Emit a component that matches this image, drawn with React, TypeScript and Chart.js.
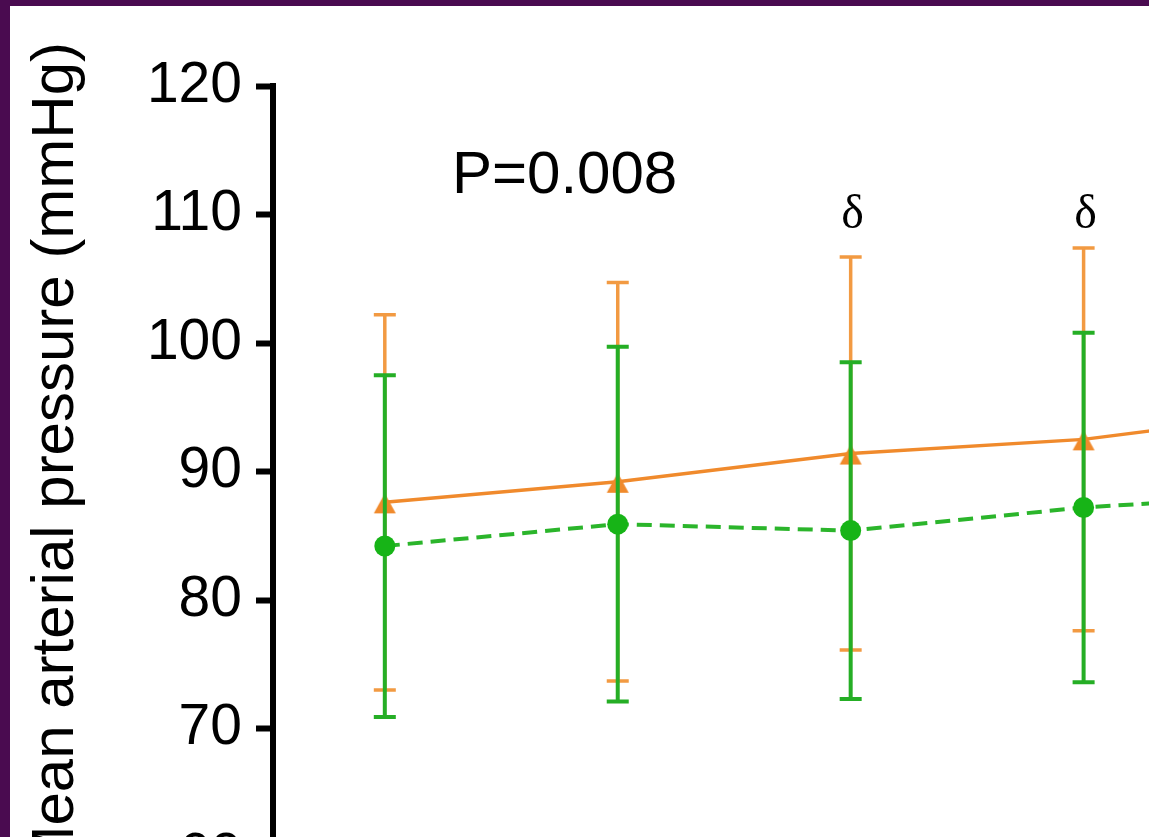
import React, { useEffect, useRef } from 'react';
import { Chart, registerables } from 'chart.js';

Chart.register(...registerables);

// ---- data ----
const timePoints = [1, 2, 3, 4, 5];
const orangeMean = [87.6, 89.2, 91.4, 92.5, 94.8];
const orangeSD = [14.6, 15.5, 15.3, 14.9, 15.0];
const greenMean = [84.2, 85.9, 85.4, 87.2, 88.3];
const greenSD = [13.3, 13.8, 13.1, 13.6, 13.5];
const yTicks = [60, 70, 80, 90, 100, 110, 120];
const deltaMarks = [3, 4];
const yTitle = 'Mean arterial pressure (mmHg)';
const pText = 'P=0.008';

const SANS = '"Liberation Sans", Arial, Helvetica, sans-serif';
const SERIF = '"Liberation Serif", "DejaVu Serif", "Times New Roman", serif';

const ORANGE_LINE = '#F08A2C';
const ORANGE_ERR = '#F29A42';
const GREEN_LINE = '#2BB52B';
const GREEN_ERR = '#25AE25';
const GREEN_PT = '#17B417';

function makeTriangle(color: string) {
  const c = document.createElement('canvas');
  c.width = 26;
  c.height = 34;
  const g = c.getContext('2d')!;
  g.fillStyle = color;
  g.beginPath();
  g.moveTo(13, 8);
  g.lineTo(24, 28);
  g.lineTo(2, 28);
  g.closePath();
  g.fill();
  return c;
}

const errSpecs = [
  { sd: greenSD, color: GREEN_ERR, width: 4 },
  { sd: orangeSD, color: ORANGE_ERR, width: 3.5 },
];

const errorBarPlugin = {
  id: 'errorBars',
  beforeDatasetDraw(chart: any, args: any) {
    const spec = errSpecs[args.index];
    if (!spec) return;
    const ctx = chart.ctx;
    const xs = chart.scales.x;
    const ys = chart.scales.y;
    const ds = chart.data.datasets[args.index];
    ctx.save();
    ctx.strokeStyle = spec.color;
    ctx.lineWidth = spec.width;
    ctx.lineCap = 'butt';
    ds.data.forEach((pt: any, i: number) => {
      const x = xs.getPixelForValue(pt.x);
      const yTop = ys.getPixelForValue(pt.y + spec.sd[i]);
      const yBot = ys.getPixelForValue(pt.y - spec.sd[i]);
      ctx.beginPath();
      ctx.moveTo(x, yTop);
      ctx.lineTo(x, yBot);
      ctx.moveTo(x - 11, yTop);
      ctx.lineTo(x + 11, yTop);
      ctx.moveTo(x - 11, yBot);
      ctx.lineTo(x + 11, yBot);
      ctx.stroke();
    });
    ctx.restore();
  },
};

const textPlugin = {
  id: 'texts',
  afterDraw(chart: any) {
    const ctx = chart.ctx;
    const xs = chart.scales.x;
    const area = chart.chartArea;
    ctx.save();
    ctx.fillStyle = '#000';
    // y-axis title
    ctx.save();
    ctx.translate(63, 36);
    ctx.rotate(-Math.PI / 2);
    ctx.font = `60px ${SANS}`;
    ctx.textAlign = 'right';
    ctx.textBaseline = 'alphabetic';
    ctx.fillText(yTitle, 0, 0);
    ctx.restore();
    // P value
    ctx.font = `60px ${SANS}`;
    ctx.textAlign = 'left';
    ctx.textBaseline = 'alphabetic';
    ctx.fillText(pText, area.left + 179, area.top + 107);
    // delta marks
    ctx.font = `48px ${SERIF}`;
    ctx.textAlign = 'center';
    deltaMarks.forEach((t) => {
      ctx.fillText('δ', xs.getPixelForValue(t) + 2, area.top + 142);
    });
    ctx.restore();
  },
};

export default function App() {
  const ref = useRef<HTMLCanvasElement>(null);

  useEffect(() => {
    document.body.style.margin = '0';
    const canvas = ref.current!;
    const tri = makeTriangle(ORANGE_LINE);
    const chart = new Chart(canvas, {
      type: 'line',
      data: {
        datasets: [
          {
            label: 'Green',
            data: timePoints.map((t, i) => ({ x: t, y: greenMean[i] })),
            borderColor: GREEN_LINE,
            borderWidth: 4,
            borderDash: [15, 8],
            pointStyle: 'circle',
            pointRadius: 10.5,
            pointBackgroundColor: GREEN_PT,
            pointBorderWidth: 0,
            tension: 0,
            fill: false,
          },
          {
            label: 'Orange',
            data: timePoints.map((t, i) => ({ x: t, y: orangeMean[i] })),
            borderColor: ORANGE_LINE,
            borderWidth: 3.5,
            pointStyle: tri as any,
            pointRadius: 10,
            pointBackgroundColor: ORANGE_LINE,
            pointBorderWidth: 0,
            tension: 0,
            fill: false,
          },
        ],
      },
      options: {
        responsive: false,
        maintainAspectRatio: false,
        animation: false,
        layout: { padding: { top: 80, left: 0, right: 17, bottom: 49 } },
        plugins: {
          legend: { display: false },
          tooltip: { enabled: false },
        },
        scales: {
          x: {
            type: 'linear',
            min: 0.52,
            max: 5.5,
            display: false,
          },
          y: {
            type: 'linear',
            min: 60,
            max: 120,
            afterBuildTicks: (s: any) => {
              s.ticks = yTicks.map((v) => ({ value: v }));
            },
            afterFit: (s: any) => {
              s.width = 263;
            },
            ticks: {
              color: '#000',
              font: { family: SANS, size: 57 },
              padding: 14,
            },
            grid: {
              display: true,
              drawOnChartArea: false,
              drawTicks: true,
              tickLength: 17,
              tickWidth: 6,
              tickColor: '#000',
            },
            border: { display: true, color: '#000', width: 6 },
          },
        },
      } as any,
      plugins: [errorBarPlugin, textPlugin],
    });
    return () => chart.destroy();
  }, []);

  return (
    <div
      style={{
        position: 'fixed',
        left: 0,
        top: 0,
        width: 1149,
        height: 837,
        background: '#4A0B50',
        overflow: 'hidden',
      }}
    >
      <div
        style={{
          position: 'absolute',
          left: 10,
          top: 6,
          width: 1139,
          height: 831,
          background: '#ffffff',
          overflow: 'hidden',
        }}
      >
        <canvas
          ref={ref}
          width={1440}
          height={900}
          style={{ position: 'absolute', left: 0, top: 0, width: 1440, height: 900, display: 'block' }}
        />
      </div>
    </div>
  );
}
